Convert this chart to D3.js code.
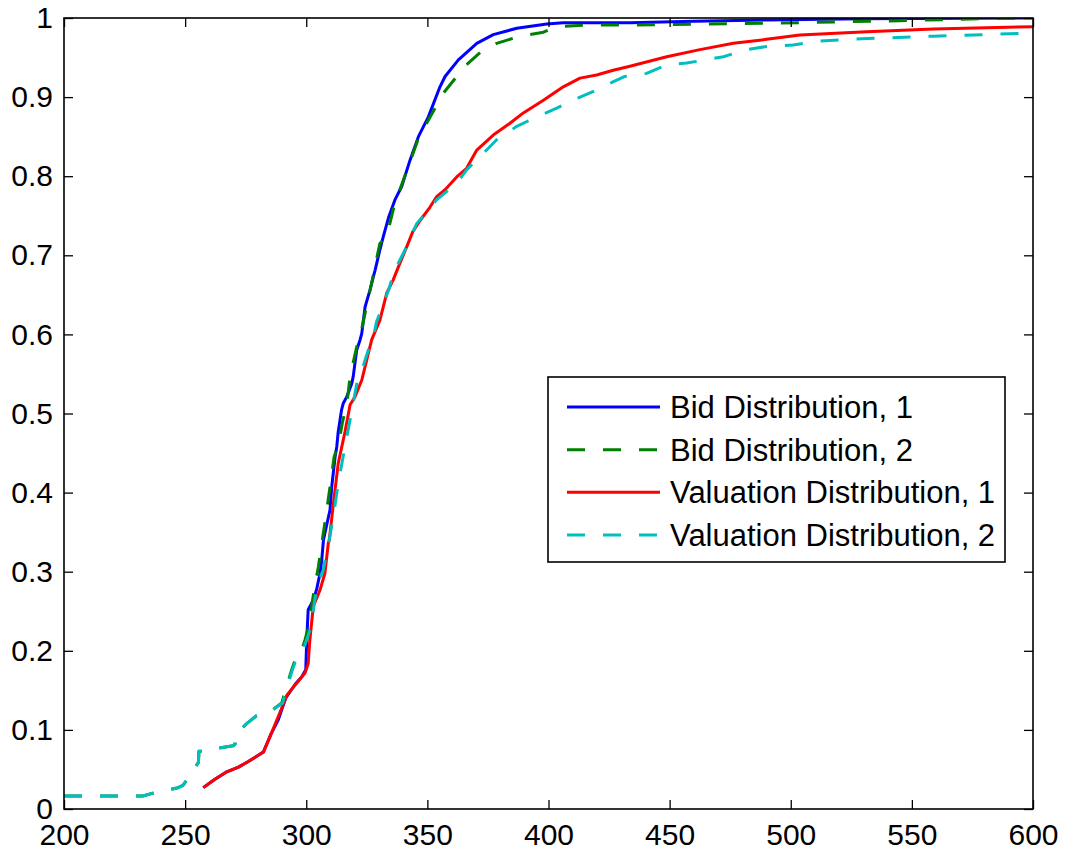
<!DOCTYPE html>
<html>
<head>
<meta charset="utf-8">
<script src="https://cdn.jsdelivr.net/npm/d3@7"></script>
<style>
  html, body { margin: 0; padding: 0; background: #fff; }
  svg { display: block; font-family: "Liberation Sans", Arial, sans-serif; }
</style>
</head>
<body>
<svg id="chart" width="1066" height="856"></svg>
<script>
// ---- Data ----
const seriesNames = ["Bid Distribution, 1", "Bid Distribution, 2", "Valuation Distribution, 1", "Valuation Distribution, 2"];
const xTicks = [200, 250, 300, 350, 400, 450, 500, 550, 600];
const yTicks = [0, 0.1, 0.2, 0.3, 0.4, 0.5, 0.6, 0.7, 0.8, 0.9, 1];
const yTickLabels = ["0", "0.1", "0.2", "0.3", "0.4", "0.5", "0.6", "0.7", "0.8", "0.9", "1"];

const bid1X = [257.5,262,267.2,272,276.1,282.3,285.5,288.5,291.5,295.5,298.1,299.8,300.2,300.8,302.9,304.3,305.7,306.4,307.1,308.5,309.8,310.5,311.9,312.6,313.2,314.6,315.3,316.7,318.8,319.4,320.8,322.2,322.9,324.3,326.3,327.7,328.4,330.4,331.8,334,336.6,339.4,342.8,346.3,350.4,355.2,357.3,362.8,370.4,377.2,386.9,399.3,406.1,433.6,460,490,530,600];
const bid1Y = [0.027,0.037,0.047,0.053,0.060,0.072,0.095,0.113,0.140,0.158,0.167,0.176,0.214,0.252,0.264,0.278,0.298,0.315,0.34,0.36,0.378,0.407,0.445,0.458,0.477,0.505,0.513,0.521,0.538,0.547,0.580,0.593,0.601,0.635,0.656,0.673,0.681,0.707,0.7235,0.748,0.770,0.787,0.820,0.850,0.875,0.913,0.926,0.947,0.968,0.979,0.987,0.9924,0.994,0.994,0.996,0.9975,0.999,1.0];

const bid2X = [200,232.6,236.7,246.6,249.1,251.2,255.5,255.7,257.8,262,269.8,270.6,271.3,275.4,279.5,282.3,286,289.9,291.2,294,296.1,298,299.5,301.5,302.5,303.6,305,305.7,307.7,309.8,311.5,313.5,315,316.7,318.1,320.8,322.2,324.5,327,329,330.4,333.2,336.5,342.1,346,349.7,356.6,362.1,366.2,373.1,378.6,388.2,397.9,403.4,414.4,433.6,490,545,586.4,600];
const bid2Y = [0.0164,0.0164,0.020,0.0265,0.030,0.039,0.059,0.073,0.073,0.076,0.080,0.082,0.095,0.108,0.118,0.120,0.125,0.134,0.148,0.176,0.195,0.200,0.214,0.237,0.262,0.283,0.306,0.321,0.362,0.407,0.445,0.464,0.490,0.510,0.547,0.584,0.597,0.630,0.665,0.695,0.715,0.7238,0.765,0.812,0.845,0.867,0.905,0.926,0.941,0.960,0.968,0.977,0.982,0.989,0.991,0.991,0.9933,0.9966,0.9996,1.0];

const val1X = [257.5,262,267.2,272,276.1,282.3,285.5,289,292,296,299.5,300.8,301.5,302.9,305.7,307.7,309.1,309.5,311.2,313.2,316,318.1,320.1,322.9,325,327,330.4,333.2,335.9,338,341.5,344,347,351.1,353.8,357.3,362.1,366.2,370.4,377.2,384.1,389.6,397.9,406.1,413,419.9,426.7,433.6,448.8,462.5,476.3,490,503.8,531.4,558.9,600];
const val1Y = [0.027,0.037,0.047,0.053,0.060,0.072,0.095,0.121,0.144,0.159,0.172,0.184,0.214,0.256,0.277,0.298,0.336,0.34,0.386,0.437,0.477,0.511,0.521,0.542,0.568,0.593,0.618,0.652,0.669,0.685,0.711,0.730,0.744,0.761,0.774,0.783,0.799,0.810,0.833,0.852,0.867,0.880,0.896,0.913,0.924,0.928,0.934,0.939,0.951,0.960,0.968,0.973,0.9785,0.9827,0.986,0.989];

const val2X = [200,232.6,236.7,246.6,249.1,251.2,255.5,255.7,257.8,262,269.8,270.6,271.3,275.4,279.5,282.3,286,290.2,291.5,294.3,296.5,298.5,300.2,302.2,303.2,304.3,305.7,307,309.5,311.2,313.2,315.5,318.1,321,323.5,325.6,327.4,329,331.5,334,336,338,340.8,345.6,353.8,362.1,366.2,373.1,378.6,386.9,395.1,403.4,413,419.9,425,431.3,440.5,448.8,457,472.2,481.8,490,501,512.1,531.4,558.9,600];
const val2Y = [0.0164,0.0164,0.020,0.0265,0.030,0.039,0.059,0.073,0.073,0.076,0.080,0.082,0.095,0.108,0.118,0.120,0.125,0.134,0.148,0.176,0.195,0.200,0.214,0.233,0.258,0.277,0.292,0.302,0.34,0.37,0.412,0.45,0.492,0.540,0.560,0.580,0.591,0.616,0.635,0.656,0.677,0.690,0.707,0.740,0.770,0.791,0.808,0.829,0.846,0.863,0.875,0.886,0.900,0.909,0.917,0.926,0.930,0.9406,0.943,0.951,0.960,0.964,0.966,0.971,0.974,0.977,0.981];

const seriesColors = ["#0000ff", "#008000", "#ff0000", "#00bfbf"];
const seriesDash = [null, "18,18", null, "18,18"];

// ---- Layout ----
const svg = d3.select("#chart");
const plotL = 64, plotR = 1033, plotT = 18, plotB = 809;
const x = d3.scaleLinear().domain([200, 600]).range([plotL, plotR]);
const y = d3.scaleLinear().domain([0, 1]).range([plotB, plotT]);
const fontSize = 30;
const legendFontSize = 31;
const tickLen = 9;

svg.append("defs").append("clipPath").attr("id", "clip")
  .append("rect").attr("x", plotL).attr("y", plotT).attr("width", plotR - plotL).attr("height", plotB - plotT);

// ---- Series ----
const series = [
  {x: bid1X, y: bid1Y},
  {x: bid2X, y: bid2Y},
  {x: val1X, y: val1Y},
  {x: val2X, y: val2Y}
];
const line = d3.line().x(d => x(d[0])).y(d => y(d[1]));
const g = svg.append("g").attr("clip-path", "url(#clip)");
series.forEach((s, i) => {
  const pts = s.x.map((v, k) => [v, s.y[k]]);
  g.append("path")
    .attr("d", line(pts))
    .attr("fill", "none")
    .attr("stroke", seriesColors[i])
    .attr("stroke-width", 3)
    .attr("stroke-linejoin", "round")
    .attr("stroke-dasharray", seriesDash[i]);
});

// ---- Axes (MATLAB style: inward ticks on all four sides, box) ----
const axBottom = d3.axisBottom(x).tickValues(xTicks).tickSizeInner(-tickLen).tickSizeOuter(0).tickPadding(15).tickFormat(d3.format("d"));
const axTop = d3.axisTop(x).tickValues(xTicks).tickSizeInner(-tickLen).tickSizeOuter(0).tickFormat("");
const axLeft = d3.axisLeft(y).tickValues(yTicks).tickSizeInner(-tickLen).tickSizeOuter(0).tickPadding(11).tickFormat((d, i) => yTickLabels[i]);
const axRight = d3.axisRight(y).tickValues(yTicks).tickSizeInner(-tickLen).tickSizeOuter(0).tickFormat("");

function style(sel) {
  sel.selectAll(".domain").remove();
  sel.selectAll(".tick line").attr("stroke", "#000").attr("stroke-width", 1.3);
  sel.selectAll(".tick text").attr("fill", "#000").style("font-size", fontSize + "px")
    .style("font-family", "'Liberation Sans', Arial, sans-serif");
}
svg.append("g").attr("transform", `translate(0,${plotB})`).call(axBottom).call(style);
svg.append("g").attr("transform", `translate(0,${plotT})`).call(axTop).call(style);
svg.append("g").attr("transform", `translate(${plotL},0)`).call(axLeft).call(style);
svg.append("g").attr("transform", `translate(${plotR},0)`).call(axRight).call(style);

svg.append("rect").attr("x", plotL).attr("y", plotT).attr("width", plotR - plotL).attr("height", plotB - plotT)
  .attr("fill", "none").attr("stroke", "#000").attr("stroke-width", 1.6);

// ---- Legend ----
const lg = svg.append("g");
const lgX = 548, lgY = 377, lgW = 457, lgH = 185;
lg.append("rect").attr("x", lgX).attr("y", lgY).attr("width", lgW).attr("height", lgH)
  .attr("fill", "#fff").attr("stroke", "#000").attr("stroke-width", 1.6);
const rowY = d3.scaleLinear().domain([0, 3]).range([407, 535]);
seriesNames.forEach((name, i) => {
  const cy = rowY(i);
  lg.append("line").attr("x1", 567).attr("x2", 660).attr("y1", cy).attr("y2", cy)
    .attr("stroke", seriesColors[i]).attr("stroke-width", 3).attr("stroke-dasharray", seriesDash[i]);
  lg.append("text").attr("x", 670).attr("y", cy).attr("dy", "0.36em")
    .style("font-size", legendFontSize + "px").attr("fill", "#000").text(name);
});
</script>
</body>
</html>
